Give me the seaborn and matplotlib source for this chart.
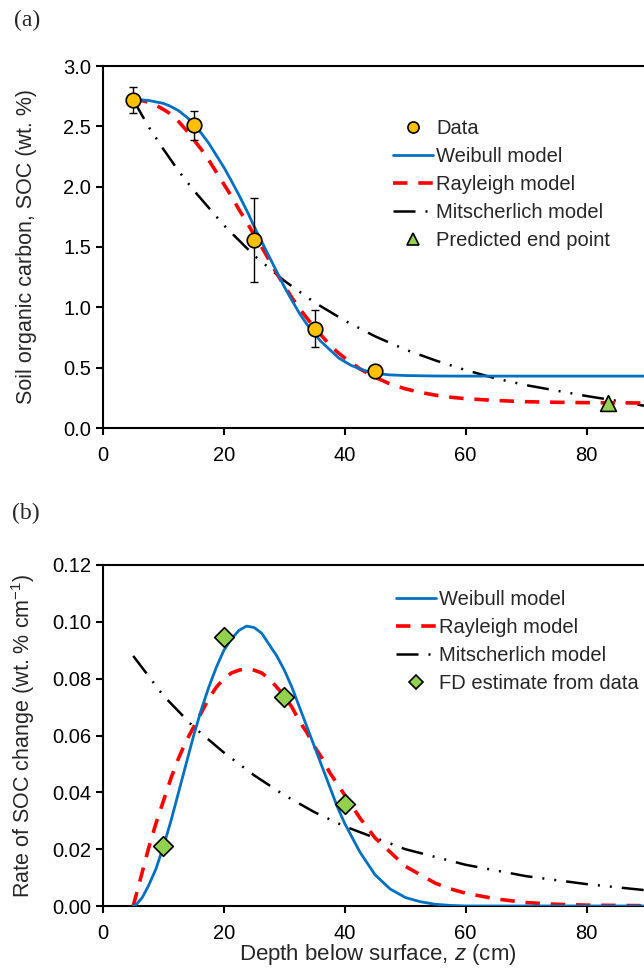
import numpy as np
import pandas as pd
import seaborn as sns
import matplotlib.pyplot as plt
from matplotlib.lines import Line2D

# measured SOC data (panel a)
depth = [5, 15, 25, 35, 45]
soc = [2.72, 2.51, 1.56, 0.82, 0.47]
soc_err_lo = [0.11, 0.12, 0.35, 0.15, 0.0]
soc_err_hi = [0.11, 0.12, 0.35, 0.16, 0.0]
end_x = [83.5]
end_y = [0.21]

# model curves
weib_x = [5, 6, 7.5, 9, 10, 11, 12.5, 14, 15, 16, 17.5, 19, 20, 21, 22.5, 24, 25, 26, 27.5, 29, 30, 31, 32.5, 34, 35,
          36, 37.5, 39, 40, 41, 42.5, 44, 45, 46, 47.5, 50, 55, 60, 70, 80, 90]
weib_y = [2.72, 2.72, 2.715, 2.70, 2.69, 2.67, 2.63, 2.57, 2.52, 2.46, 2.36, 2.24, 2.16, 2.07, 1.93, 1.78, 1.67, 1.57,
          1.42, 1.27, 1.17, 1.08, 0.95, 0.84, 0.78, 0.72, 0.65, 0.58, 0.55, 0.52, 0.49, 0.465, 0.455, 0.447, 0.44,
          0.435, 0.431, 0.43, 0.43, 0.43, 0.43]
rayl_x = [5, 6.25, 7.5, 8.75, 10, 11.25, 12.5, 13.75, 15, 16.25, 17.5, 18.75, 20, 21.25, 22.5, 23.75, 25, 26.25, 27.5,
          28.75, 30, 31.25, 32.5, 33.75, 35, 36.25, 37.5, 38.75, 40, 42.5, 45, 47.5, 50, 52.5, 55, 57.5, 60, 65, 70,
          75, 80, 90]
rayl_y = [2.72, 2.715, 2.70, 2.675, 2.64, 2.60, 2.54, 2.47, 2.39, 2.31, 2.22, 2.12, 2.02, 1.92, 1.81, 1.71, 1.60, 1.50,
          1.39, 1.28, 1.18, 1.08, 0.99, 0.91, 0.83, 0.76, 0.69, 0.63, 0.58, 0.49, 0.42, 0.365, 0.325, 0.295, 0.272,
          0.255, 0.243, 0.228, 0.218, 0.213, 0.21, 0.207]
mits_x = [5, 7.5, 10, 12.5, 15, 20, 25, 30, 35, 40, 45, 50, 55, 60, 65, 70, 75, 80, 85, 90]
mits_y = [2.72, 2.50, 2.31, 2.13, 1.97, 1.68, 1.43, 1.22, 1.04, 0.89, 0.76, 0.65, 0.56, 0.48, 0.41, 0.355, 0.31,
          0.265, 0.225, 0.18]

# rate of change (panel b)
fd_x = [10, 20, 30, 40]
fd_y = [0.021, 0.0945, 0.0737, 0.036]
dweib_x = [5, 5.5, 6.5, 7.5, 8.75, 10, 11.25, 12.5, 13.75, 15, 16.25, 17.5, 18.75, 20, 21.25, 22.5, 23.75, 25, 26.25,
           27.5, 28.75, 30, 31.25, 32.5, 33.75, 35, 36.25, 37.5, 38.75, 40, 41.25, 42.5, 43.75, 45, 47.5, 50, 52.5,
           55, 57.5, 60, 70, 80, 90]
dweib_y = [0, 0.0005, 0.003, 0.007, 0.013, 0.021, 0.030, 0.040, 0.050, 0.060, 0.069, 0.077, 0.084, 0.090, 0.094,
           0.097, 0.0985, 0.098, 0.096, 0.092, 0.088, 0.083, 0.077, 0.070, 0.063, 0.056, 0.049, 0.042, 0.035, 0.029,
           0.024, 0.019, 0.015, 0.011, 0.006, 0.003, 0.0015, 0.0006, 0.0002, 0, 0, 0, 0]
drayl_x = [5, 5.5, 6.25, 7.5, 8.75, 10, 11.25, 12.5, 13.75, 15, 16.25, 17.5, 18.75, 20, 21.25, 22.5, 23.75, 25, 26.25,
           27.5, 28.75, 30, 31.25, 32.5, 33.75, 35, 36.25, 37.5, 38.75, 40, 42.5, 45, 47.5, 50, 52.5, 55, 57.5, 60,
           65, 70, 75, 80, 90]
drayl_y = [0, 0.004, 0.010, 0.020, 0.029, 0.037, 0.045, 0.052, 0.058, 0.063, 0.068, 0.073, 0.077, 0.080, 0.082, 0.083,
           0.0835, 0.083, 0.082, 0.080, 0.077, 0.074, 0.070, 0.065, 0.061, 0.056, 0.052, 0.047, 0.043, 0.039, 0.031,
           0.024, 0.019, 0.014, 0.011, 0.008, 0.006, 0.0045, 0.0025, 0.0012, 0.0006, 0.0003, 0.0001]
dmits_x = [5, 10, 15, 20, 25, 30, 35, 40, 50, 60, 70, 80, 90]
dmits_y = [0.088, 0.074, 0.063, 0.054, 0.046, 0.039, 0.033, 0.028, 0.020, 0.0145, 0.0105, 0.0077, 0.0055]

BLUE = "#0070C0"
RED = "#FF0000"
ORANGE = "#FFC000"
GREEN = "#92D050"
mits_ls = (0, (8.8, 4, 0.8, 4, 0.8, 4))
rayl_ls = (0, (4, 3))

sns.set_style("ticks")
plt.rcParams['font.family'] = ['Liberation Sans', 'DejaVu Sans']
plt.rcParams['mathtext.fontset'] = 'custom'
plt.rcParams['mathtext.rm'] = 'Liberation Sans'
plt.rcParams['mathtext.it'] = 'Liberation Sans:italic'

fig = plt.figure(figsize=(6.44, 9.73), dpi=100)
ax1 = fig.add_axes([103/644, 545/973, 544/644, 362/973])
ax2 = fig.add_axes([103/644, 67/973, 544/644, 341/973])

# ---- panel (a)
sns.lineplot(x=mits_x, y=mits_y, ax=ax1, color="black", lw=1.8, linestyle=mits_ls, estimator=None, zorder=2)
sns.lineplot(x=rayl_x, y=rayl_y, ax=ax1, color=RED, lw=2.6, linestyle=rayl_ls, estimator=None, zorder=3)
sns.lineplot(x=weib_x, y=weib_y, ax=ax1, color=BLUE, lw=2, estimator=None, zorder=4)
ax1.errorbar(depth, soc, yerr=[soc_err_lo, soc_err_hi], fmt="none", ecolor="black", elinewidth=1, capsize=3, zorder=5)
sns.scatterplot(x=depth, y=soc, ax=ax1, color=ORANGE, edgecolor="black", linewidth=1.2, s=110, zorder=6)
sns.scatterplot(x=end_x, y=end_y, ax=ax1, color=GREEN, marker="^", edgecolor="black", linewidth=1.2, s=130, zorder=6)

h1 = [
    Line2D([], [], ls="none", marker="o", mfc=ORANGE, mec="black", mew=1.2, ms=8),
    Line2D([], [], color=BLUE, lw=2),
    Line2D([], [], color=RED, lw=2.6, ls=rayl_ls),
    Line2D([], [], color="black", lw=1.8, ls=mits_ls),
    Line2D([], [], ls="none", marker="^", mfc=GREEN, mec="black", mew=1.2, ms=8),
]
l1 = ["Data", "Weibull model", "Rayleigh model", "Mitscherlich model", "Predicted end point"]
ax1.legend(h1, l1, loc="upper left", bbox_to_anchor=(383/644, 1 - 109/973), bbox_transform=fig.transFigure,
           frameon=False, fontsize=14.5, handlelength=2.0, handletextpad=0.15, labelspacing=0.45, borderpad=0)

ax1.set_xlim(0, 90)
ax1.set_ylim(0, 3.0)
ax1.set_xticks([0, 20, 40, 60, 80])
ax1.set_yticks(np.arange(0, 3.01, 0.5))
ax1.yaxis.set_major_formatter(plt.FormatStrFormatter("%.1f"))
ax1.set_ylabel("Soil organic carbon, SOC (wt. %)", fontsize=15.5)
ax1.yaxis.set_label_coords((37 - 103) / 544, 0.5)

# ---- panel (b)
sns.lineplot(x=dmits_x, y=dmits_y, ax=ax2, color="black", lw=1.8, linestyle=mits_ls, estimator=None, zorder=2)
sns.lineplot(x=drayl_x, y=drayl_y, ax=ax2, color=RED, lw=2.6, linestyle=rayl_ls, estimator=None, zorder=3)
sns.lineplot(x=dweib_x, y=dweib_y, ax=ax2, color=BLUE, lw=2, estimator=None, zorder=4)
sns.scatterplot(x=fd_x, y=fd_y, ax=ax2, color=GREEN, marker="D", edgecolor="black", linewidth=1.2, s=100, zorder=6)

h2 = [
    Line2D([], [], color=BLUE, lw=2),
    Line2D([], [], color=RED, lw=2.6, ls=rayl_ls),
    Line2D([], [], color="black", lw=1.8, ls=mits_ls),
    Line2D([], [], ls="none", marker="D", mfc=GREEN, mec="black", mew=1.2, ms=7),
]
l2 = ["Weibull model", "Rayleigh model", "Mitscherlich model", "FD estimate from data"]
ax2.legend(h2, l2, loc="upper left", bbox_to_anchor=(386/644, 1 - 580/973), bbox_transform=fig.transFigure,
           frameon=False, fontsize=14.5, handlelength=2.0, handletextpad=0.15, labelspacing=0.45, borderpad=0)

ax2.set_xlim(0, 90)
ax2.set_ylim(0, 0.12)
ax2.set_xticks([0, 20, 40, 60, 80])
ax2.set_yticks(np.arange(0, 0.121, 0.02))
ax2.yaxis.set_major_formatter(plt.FormatStrFormatter("%.2f"))
ax2.set_ylabel("Rate of SOC change (wt. % cm$^{-1}$)", fontsize=15.5)
ax2.yaxis.set_label_coords((37 - 103) / 544, 0.5)
ax2.set_xlabel("Depth below surface, $z$ (cm)", fontsize=16)
ax2.xaxis.set_label_coords((378 - 103) / 544, (906 - 942) / 341)

for ax in (ax1, ax2):
    for sp in ax.spines.values():
        sp.set_linewidth(1.5)
        sp.set_color("black")
    ax.tick_params(axis="both", direction="out", length=5, width=1.5, labelsize=14.5, colors="black")
    ax.tick_params(axis="x", pad=8)

fig.text(14/644, 1 - 20/973, "(a)", family="Liberation Serif", fontsize=17, va="center")
fig.text(12/644, 1 - 513/973, "(b)", family="Liberation Serif", fontsize=17, va="center")

fig.savefig("out.png", dpi=100)
